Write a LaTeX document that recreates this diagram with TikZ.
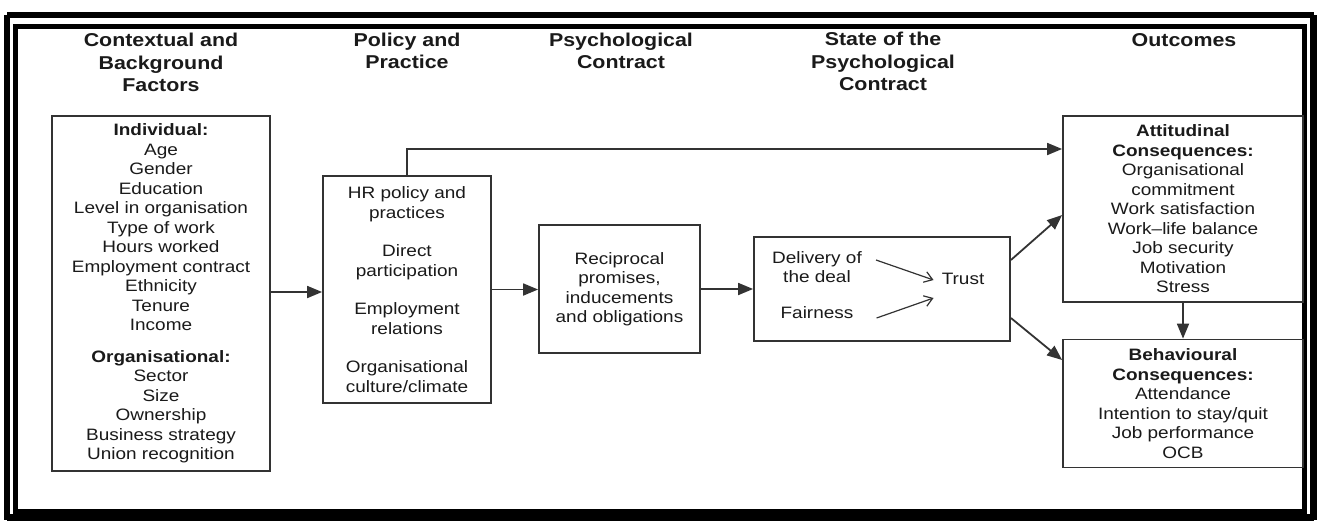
\documentclass[tikz,border=0pt]{standalone}
\usepackage{fontspec}
\setmainfont{Liberation Sans}[FakeStretch=1.15]
\usetikzlibrary{arrows.meta}
\definecolor{ln}{HTML}{333333}
\definecolor{tx}{HTML}{1A1A1A}
\newcommand\bodyfnt{\fontsize{16.5}{19.5}\selectfont}
\newcommand\headfnt{\fontsize{18.6}{22.5}\selectfont\bfseries}
\begin{document}
\begin{tikzpicture}[x=1pt,y=-1pt,
  box/.style={draw=ln, line width=1.8pt, inner sep=0pt, align=center, font=\bodyfnt, text=tx},
  head/.style={align=center, font=\headfnt, text=tx, inner sep=0pt},
  txt/.style={align=center, font=\bodyfnt, text=tx, inner sep=0pt},
  arr/.style={draw=ln, line width=1.8pt, -{Triangle[length=15pt,width=12pt]}},
  smallarr/.style={draw=ln, line width=1.2pt, -{Straight Barb[length=8pt,width=11pt]}},
  frameline/.style={draw=black}]
\fill[white] (0,0) rectangle (1317,520);
\useasboundingbox (0,0) rectangle (1317,520);
% double frame
\draw[frameline, line width=6pt] (7,15) -- (1313.5,15);
\draw[frameline, line width=6pt] (7,15) -- (7,520);
\draw[frameline, line width=7pt] (1313.5,15) -- (1313.5,520);
\draw[frameline, line width=7pt] (7,517) -- (1313.5,517);
\draw[frameline, line width=5pt] (15.5,26.5) rectangle (1304.5,511);

% headings
\node[head] (h1) at (161,62.5) {Contextual and\\Background\\Factors};
\node[head] (h2) at (407,51) {Policy and\\Practice};
\node[head] (h3) at (621,51) {Psychological\\Contract};
\node[head] (h4) at (883,61.5) {State of the\\Psychological\\Contract};
\node[head] (h5) at (1184,40) {Outcomes};

% boxes
\node[box, minimum width=218pt, minimum height=355pt] (ctx) at (161,293.5)
  {\textbf{Individual:}\\Age\\Gender\\Education\\Level in organisation\\Type of work\\Hours worked\\Employment contract\\Ethnicity\\Tenure\\Income\\[12pt]\textbf{Organisational:}\\Sector\\Size\\Ownership\\Business strategy\\Union recognition};
\node[box, minimum width=168pt, minimum height=227pt] (pol) at (407,289.5)
  {HR policy and\\practices\\[19pt]Direct\\participation\\[19pt]Employment\\relations\\[19pt]Organisational\\culture/climate};
\node[box, minimum width=161pt, minimum height=128pt] (rec) at (619.5,289)
  {Reciprocal\\promises,\\inducements\\and obligations};
\node[box, minimum width=256pt, minimum height=104pt] (st) at (882,289) {};
\node[box, minimum width=240pt, minimum height=186pt] (att) at (1183,209)
  {\textbf{Attitudinal}\\\textbf{Consequences:}\\Organisational\\commitment\\Work satisfaction\\Work--life balance\\Job security\\Motivation\\Stress};
\node[box, minimum width=240pt, minimum height=128pt] (beh) at (1183,403.5)
  {\textbf{Behavioural}\\\textbf{Consequences:}\\Attendance\\Intention to stay/quit\\Job performance\\OCB};

% inside state box
\node[txt] (deliv) at (817,267) {Delivery of\\the deal};
\node[txt] (fair) at (817,313) {Fairness};
\node[txt] (trust) at (963,279) {Trust};
\draw[smallarr] ([xshift=14pt,yshift=7pt]deliv.east) -- ([xshift=-8pt,yshift=-1pt]trust.west);
\draw[smallarr] ([xshift=23pt,yshift=-5pt]fair.east) -- ([xshift=-8pt,yshift=-19pt]trust.west);

% connectors
\draw[arr] ([yshift=1.5pt]ctx.east) -- ([yshift=1.5pt]ctx.east -| pol.west);
\draw[arr] (pol.east) -- (pol.east -| rec.west);
\draw[arr] (rec.east) -- (rec.east -| st.west);
\coordinate (bend) at (407,149);
\draw[arr] (pol.north) -- (bend) -- (bend -| att.west);
\draw[arr] ([yshift=29pt]st.east) -- ([yshift=-6pt]att.west);
\draw[arr] ([yshift=-29pt]st.east) -- ([yshift=43.5pt]beh.west);
\draw[arr] (att.south) -- (beh.north);
\end{tikzpicture}
\end{document}
